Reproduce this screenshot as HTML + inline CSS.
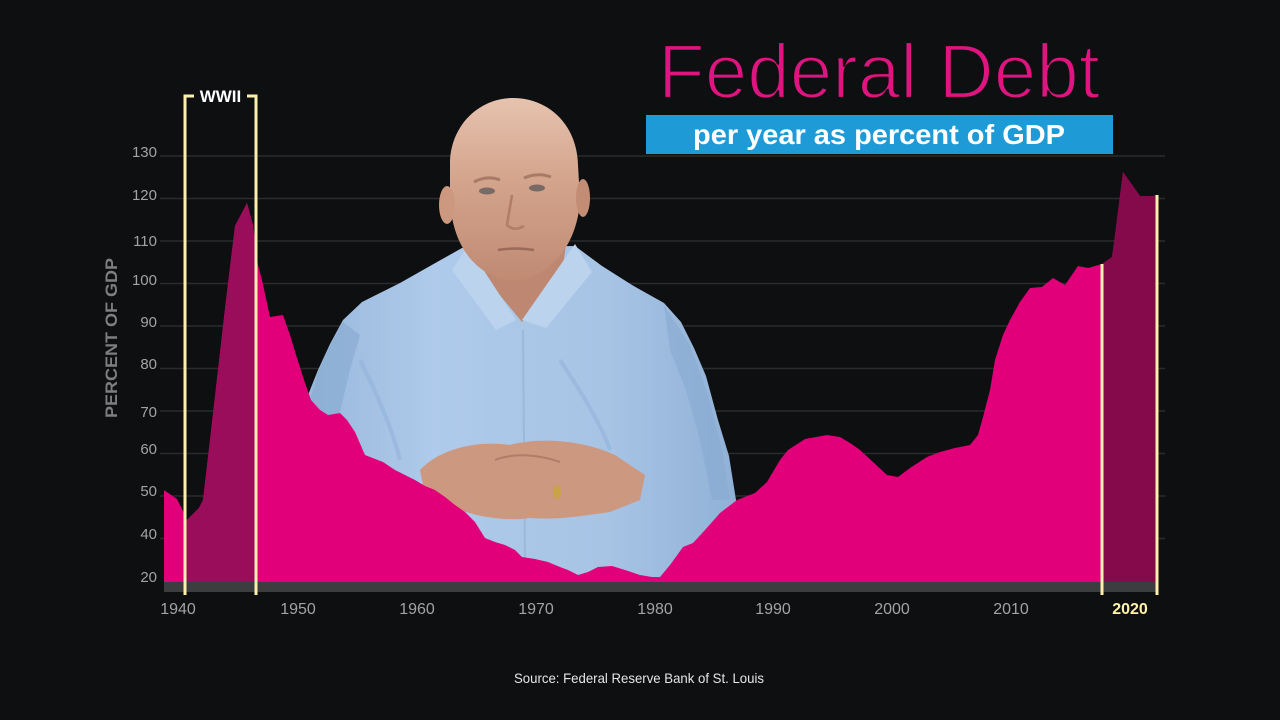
<!DOCTYPE html>
<html>
<head>
<meta charset="utf-8">
<style>
  html,body{margin:0;padding:0;background:#0e0f11;}
  body{width:1280px;height:720px;overflow:hidden;}
  svg{display:block;}
</style>
</head>
<body>
<svg width="1280" height="720" viewBox="0 0 1280 720" xmlns="http://www.w3.org/2000/svg">
  <defs>
    <clipPath id="ww2"><rect x="185" y="0" width="71" height="600"/></clipPath>
    <clipPath id="recent"><rect x="1102" y="0" width="56" height="600"/></clipPath>
    <linearGradient id="headg" x1="0" y1="0" x2="0" y2="1">
      <stop offset="0" stop-color="#e6c3af"/>
      <stop offset="0.45" stop-color="#d4a48c"/>
      <stop offset="1" stop-color="#c08a73"/>
    </linearGradient>
    <linearGradient id="shirtg" x1="0" y1="0" x2="1" y2="0">
      <stop offset="0" stop-color="#98b8dc"/>
      <stop offset="0.3" stop-color="#afcaea"/>
      <stop offset="0.7" stop-color="#a7c4e5"/>
      <stop offset="1" stop-color="#90b1d6"/>
    </linearGradient>
  </defs>

  <rect x="0" y="0" width="1280" height="720" fill="#0e0f11"/>

  <!-- gridlines -->
  <g stroke="#2a2b2e" stroke-width="1.5">
    <line x1="160" y1="156" x2="1165" y2="156"/>
    <line x1="160" y1="198.5" x2="1165" y2="198.5"/>
    <line x1="160" y1="241" x2="1165" y2="241"/>
    <line x1="160" y1="283.5" x2="1165" y2="283.5"/>
    <line x1="160" y1="326" x2="1165" y2="326"/>
    <line x1="160" y1="368.5" x2="1165" y2="368.5"/>
    <line x1="160" y1="411" x2="1165" y2="411"/>
    <line x1="160" y1="453.5" x2="1165" y2="453.5"/>
    <line x1="160" y1="496" x2="1165" y2="496"/>
    <line x1="160" y1="538.5" x2="1165" y2="538.5"/>
  </g>

  <!-- person -->
  <g>
    <path d="M462,248 L430,266 L400,283 L362,302 L343,320 L330,344 L318,370 L308,395 L305,430 L305,585 L736,585 L736,500 L729,456 L718,420 L706,376 L694,348 L681,322 L664,303 L632,285 L602,266 L575,246 Z" fill="url(#shirtg)"/>
    <path d="M343,322 L330,345 L318,372 L310,400 L312,470 L330,470 L338,420 L350,370 L360,335 Z" fill="#8aacd2" opacity="0.7"/>
    <path d="M664,305 L690,345 L708,395 L722,450 L730,500 L712,500 L700,440 L686,390 L670,350 Z" fill="#88aad0" opacity="0.6"/>
    <path d="M560,360 Q600,420 610,450" stroke="#93b3d8" stroke-width="4" fill="none" opacity="0.6"/>
    <path d="M360,360 Q390,420 400,460" stroke="#93b3d8" stroke-width="4" fill="none" opacity="0.6"/>
    <path d="M472,232 L568,232 L562,272 L522,322 L484,276 Z" fill="#bd8771"/>
    <path d="M452,270 L468,246 L516,320 L496,330 Z" fill="#bcd3ee"/>
    <path d="M575,244 L592,272 L546,328 L522,320 Z" fill="#bcd3ee"/>
    <line x1="523" y1="330" x2="525" y2="560" stroke="#9bb9db" stroke-width="2"/>
    <path d="M513,98 C548,98 577,124 578,165 L580,200 C578,236 560,267 528,278 C518,281 508,281 498,278 C470,268 452,240 450,200 L450,160 C452,124 480,98 513,98 Z" fill="url(#headg)"/>
    <ellipse cx="447" cy="205" rx="8" ry="19" fill="#cc987f"/>
    <ellipse cx="583" cy="198" rx="7" ry="19" fill="#c38d75"/>
    <path d="M474,182 Q487,175 500,180" stroke="#a97a66" stroke-width="3" fill="none"/>
    <path d="M524,178 Q538,172 551,177" stroke="#a97a66" stroke-width="3" fill="none"/>
    <ellipse cx="487" cy="191" rx="8" ry="3.5" fill="#7a6a66"/>
    <ellipse cx="537" cy="188" rx="8" ry="3.5" fill="#7a6a66"/>
    <path d="M512,195 L507,225 Q514,232 524,226" stroke="#b07d68" stroke-width="2.5" fill="none"/>
    <path d="M498,250 Q515,247 534,250" stroke="#9c6a5a" stroke-width="2.5" fill="none"/>
    <path d="M420,470 C440,448 480,440 510,445 C540,437 582,440 615,455 L645,475 L640,500 L610,512 C580,516 560,520 530,518 C500,522 470,515 450,506 L425,495 Z" fill="#cc9880"/>
    <path d="M495,460 C515,452 540,455 560,462" stroke="#b07d68" stroke-width="2" fill="none"/>
    <ellipse cx="557" cy="492" rx="4" ry="7" fill="#c9a24a"/>
  </g>

  <!-- area -->
  <polygon fill="#e2007a" points="164,582 164,490 177,499 184,513 187,520 199,508 203,500 210,440 218,370 226,300 235,226 247,203 253,225 258,265 262,280 270,317 283,315 290,335 297,358 305,383 311,400 320,410 328,415 340,413 347,420 355,432 365,455 383,462 395,470 405,475 415,480 425,486 435,490 445,497 455,505 465,512 475,522 485,538 495,542 505,545 515,550 522,557 535,559 548,562 560,567 568,570 578,575 588,572 598,567 612,566 625,570 640,575 652,577 660,577 670,565 683,547 693,543 705,530 720,513 737,500 755,493 767,482 780,460 788,450 805,439 827,435 840,437 850,443 860,450 873,462 887,475 898,477 910,468 927,457 940,452 955,448 970,445 978,435 983,417 990,390 995,360 1003,335 1010,320 1020,302 1030,288 1042,287 1053,278 1065,285 1078,266 1088,268 1102,264 1112,257 1114,243 1123,172 1140,196 1153,196 1157,195 1157,582"/>
  <g clip-path="url(#ww2)">
    <polygon fill="#9a0d5a" points="164,582 164,490 177,499 184,513 187,520 199,508 203,500 210,440 218,370 226,300 235,226 247,203 253,225 258,265 262,280 270,317 270,582"/>
  </g>
  <g clip-path="url(#recent)">
    <polygon fill="#850a4b" points="1088,582 1088,268 1102,264 1112,257 1114,243 1123,172 1140,196 1153,196 1157,195 1157,582"/>
  </g>

  <rect x="164" y="582" width="993" height="10" fill="#3c3d3e"/>

  <g stroke="#fdf0ae" stroke-width="3" fill="none">
    <polyline points="194,96 185,96 185,595"/>
    <polyline points="247,96 256,96 256,595"/>
    <line x1="1102" y1="264" x2="1102" y2="595"/>
    <line x1="1157" y1="195" x2="1157" y2="595"/>
  </g>
  <text x="220.5" y="102" text-anchor="middle" font-family="Liberation Sans, sans-serif" font-weight="bold" font-size="17" fill="#ffffff">WWII</text>

  <g font-family="Liberation Sans, sans-serif" font-size="15" fill="#a3a3a3" text-anchor="end">
    <text x="157" y="157">130</text>
    <text x="157" y="200">120</text>
    <text x="157" y="246">110</text>
    <text x="157" y="285">100</text>
    <text x="157" y="327">90</text>
    <text x="157" y="369">80</text>
    <text x="157" y="417">70</text>
    <text x="157" y="454">60</text>
    <text x="157" y="496">50</text>
    <text x="157" y="539">40</text>
    <text x="157" y="582">20</text>
  </g>

  <text transform="translate(117,338) rotate(-90)" text-anchor="middle" font-family="Liberation Sans, sans-serif" font-weight="bold" font-size="17" fill="#7e7e7e" textLength="160" lengthAdjust="spacingAndGlyphs">PERCENT OF GDP</text>

  <g font-family="Liberation Sans, sans-serif" font-size="16" fill="#a3a3a3" text-anchor="middle">
    <text x="178" y="614">1940</text>
    <text x="298" y="614">1950</text>
    <text x="417" y="614">1960</text>
    <text x="536" y="614">1970</text>
    <text x="655" y="614">1980</text>
    <text x="773" y="614">1990</text>
    <text x="892" y="614">2000</text>
    <text x="1011" y="614">2010</text>
  </g>
  <text x="1130" y="614" text-anchor="middle" font-family="Liberation Sans, sans-serif" font-weight="bold" font-size="16" fill="#fff3a8">2020</text>

  <text x="658" y="98" font-family="Liberation Sans, sans-serif" font-size="77" fill="#df1480" stroke="#0e0f11" stroke-width="2.2" textLength="442" lengthAdjust="spacingAndGlyphs">Federal Debt</text>
  <rect x="646" y="115" width="467" height="39" fill="#1e9ad7"/>
  <text x="693" y="144" font-family="Liberation Sans, sans-serif" font-weight="bold" font-size="28" fill="#ffffff" textLength="372" lengthAdjust="spacingAndGlyphs">per year as percent of GDP</text>

  <text x="639" y="683" text-anchor="middle" font-family="Liberation Sans, sans-serif" font-size="14" fill="#e6e6e6" textLength="250" lengthAdjust="spacingAndGlyphs">Source: Federal Reserve Bank of St. Louis</text>
</svg>
</body>
</html>
